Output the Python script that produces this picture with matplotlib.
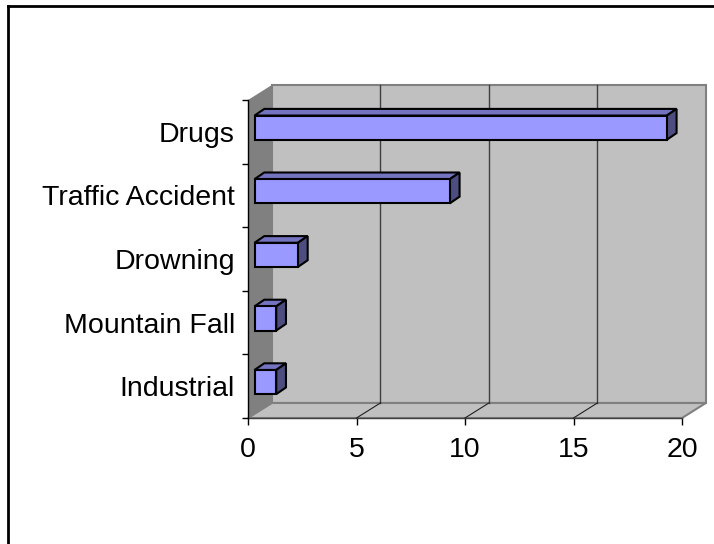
import matplotlib
matplotlib.use("Agg")
import matplotlib.pyplot as plt
from matplotlib.patches import Polygon, Rectangle
from matplotlib.lines import Line2D

# data (bottom to top, as drawn)
categories = ["Industrial", "Mountain Fall", "Drowning", "Traffic Accident", "Drugs"]
values = [1, 1, 2, 9, 19]
x_ticks = [0, 5, 10, 15, 20]

plt.rcParams['font.family'] = ['Liberation Sans', 'DejaVu Sans']

fig = plt.figure(figsize=(7.14, 5.44), dpi=100)
ax = fig.add_axes([248 / 714, 126 / 544, 434 / 714, 318 / 544])
ax.set_xlim(0, 20)
ax.set_ylim(0, len(categories))
ax.patch.set_visible(False)

# 3D depth offset of the back wall, in data units
dx, dy = 1.1, 0.236
# bar front / back depth offsets
fx, fy = 0.3, 0.065
bx, by = 0.75, 0.17
half = 0.19
n = len(categories)
xmax = x_ticks[-1]

# side wall
ax.add_patch(Polygon([(0, 0), (dx, dy), (dx, n + dy), (0, n)], closed=True,
                     facecolor="#808080", edgecolor="none", clip_on=False, zorder=1))
# back wall
ax.add_patch(Rectangle((dx, dy), xmax, n, facecolor="#C0C0C0", edgecolor="#808080",
                       lw=1.5, clip_on=False, zorder=1))
# floor
ax.add_patch(Polygon([(0, 0), (xmax, 0), (xmax + dx, dy), (dx, dy)], closed=True,
                     facecolor="#C0C0C0", edgecolor="#808080", lw=1.5,
                     clip_on=False, zorder=1))
ax.plot([0, xmax], [0, 0], color="#404040", lw=1, clip_on=False, zorder=2)

# gridlines on wall and floor
for v in x_ticks[1:-1]:
    ax.plot([v + dx, v + dx], [dy, n + dy], color="#404040", lw=1, clip_on=False, zorder=2)
    ax.plot([v, v + dx], [0, dy], color="#202020", lw=0.8, clip_on=False, zorder=2)

# bars
for i, v in enumerate(values):
    c = i + 0.5
    top = c + half
    bot = c - half
    ax.add_patch(Polygon([(fx, top + fy), (v + fx, top + fy), (v + bx, top + by), (bx, top + by)],
                         closed=True, facecolor="#7373BF", edgecolor="black", lw=1.5,
                         clip_on=False, zorder=3))
    ax.add_patch(Polygon([(v + fx, bot + fy), (v + bx, bot + by), (v + bx, top + by), (v + fx, top + fy)],
                         closed=True, facecolor="#4D4D80", edgecolor="black", lw=1.5,
                         clip_on=False, zorder=3))
    ax.add_patch(Rectangle((fx, bot + fy), v, 2 * half, facecolor="#9999FF",
                           edgecolor="black", lw=1.5, clip_on=False, zorder=4))

# axes styling
for s in ["top", "right", "bottom"]:
    ax.spines[s].set_visible(False)
ax.spines["left"].set_color("black")
ax.spines["left"].set_linewidth(1)
ax.spines["left"].set_zorder(5)

ax.set_xticks(x_ticks)
ax.set_xticklabels([str(t) for t in x_ticks])
ax.tick_params(axis="x", length=5, width=1, color="black", pad=9, labelsize=20.5)

ax.set_yticks([i + 0.5 for i in range(n)])
ax.set_yticklabels(categories)
ax.set_yticks(range(n + 1), minor=True)
ax.tick_params(axis="y", which="major", length=0, pad=9.5, labelsize=20.5)
ax.tick_params(axis="y", which="minor", length=4, width=1, color="black")

# chart frame
fig.add_artist(Line2D([8 / 714, 1], [1 - 6 / 544, 1 - 6 / 544], color="black", lw=2,
                      transform=fig.transFigure))
fig.add_artist(Line2D([8 / 714, 8 / 714], [0, 1 - 6 / 544], color="black", lw=2,
                      transform=fig.transFigure))

fig.savefig("out.png", dpi=100)
